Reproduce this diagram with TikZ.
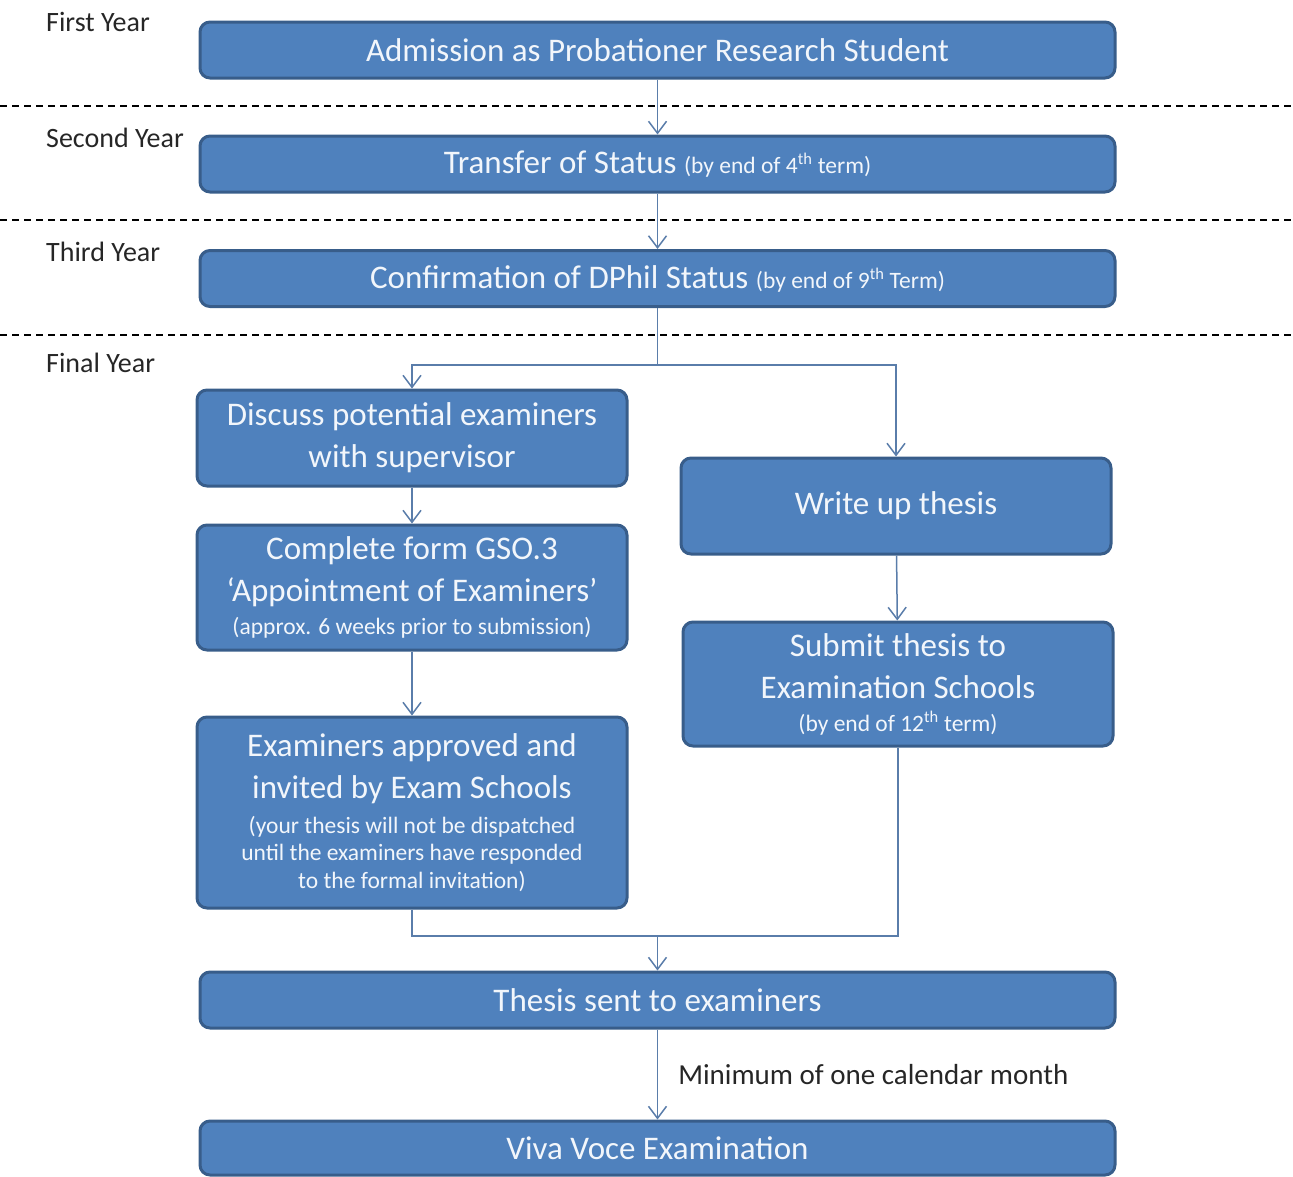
\documentclass[tikz,border=0pt]{standalone}
\usepackage{fontspec}
\setmainfont{Carlito}
\usetikzlibrary{arrows.meta}

\definecolor{boxfill}{HTML}{4F81BD}
\definecolor{boxline}{HTML}{385D8A}
\definecolor{linkcol}{HTML}{5A7DAA}
\definecolor{boxtext}{HTML}{F2F6FB}

\newcommand{\bigtxt}{\fontsize{33}{42}\selectfont}
\newcommand{\smalltxt}{\fontsize{23.5}{27.5}\selectfont}

\begin{document}
\begin{tikzpicture}[x=1pt,y=-1pt,
    box/.style={draw=boxline,line width=3pt,fill=boxfill,rounded corners=10pt,
        text=boxtext,align=center,inner sep=0pt,minimum width=430pt,font=\bigtxt},
    bar/.style={box,minimum width=915pt,minimum height=56pt},
    year/.style={anchor=west,inner sep=0pt,text=black!85,font=\fontsize{28}{30}\selectfont},
    link/.style={draw=linkcol,line width=1.5pt},
    arr/.style={link,-{Straight Barb[length=12pt,width=18pt,line width=1.5pt]}}]

            \useasboundingbox (0,0) rectangle (1293,1176);

            % year separators
            \foreach \y in {106,220,335}
                \draw[black,line width=1.3pt,dash pattern=on 7pt off 5pt] (0,\y) -- (1293,\y);

            \node[year] (y1) at (46,22) {First Year};
            \node[year] (y2) at (46,138) {Second Year};
            \node[year] (y3) at (46,252) {Third Year};
            \node[year] (y4) at (46,363) {Final Year};

            \node[bar] (adm) at (657.5,50) {Admission as Probationer Research Student};

            \node[bar] (trans) at (657.5,164) {Transfer of Status {\smalltxt (by end of 4\textsuperscript{th} term)}};

            \node[bar] (conf) at (657.5,278.5) {Confirmation of DPhil Status {\smalltxt (by end of 9\textsuperscript{th} Term)}};

            \node[box,minimum height=96pt] (discuss) at (412,438) {Discuss potential examiners\\with supervisor};

            \node[box,minimum height=125pt] (gso) at (412,587.5) {Complete form GSO.3\\‘Appointment of Examiners’\\[-9pt]{\smalltxt (approx. 6 weeks prior to submission)}};

            \node[box,minimum height=191pt] (approved) at (412,812.5) {Examiners approved and\\invited by Exam Schools\\[-7pt]
                {\smalltxt (your thesis will not be dispatched}\\[-14.5pt]{\smalltxt until the examiners have responded}\\[-14.5pt]{\smalltxt to the formal invitation)}};

            \node[box,minimum height=96pt] (writeup) at (896,506) {Write up thesis};

            \node[box,minimum height=124pt] (submit) at (898,684) {Submit thesis to\\Examination Schools\\[-9pt]{\smalltxt (by end of 12\textsuperscript{th} term)}};

            \node[bar] (sent) at (657.5,1000) {Thesis sent to examiners};

            \node[bar,minimum height=54pt] (viva) at (657.5,1148) {Viva Voce Examination};

            \coordinate (split) at (657.5,365);
            \coordinate (join) at (657.5,936);

            \draw[arr] (adm) -- (trans);
            \draw[arr] (trans) -- (conf);
            \draw[link] (conf) -- (split);
            \draw[arr] (split) -| (discuss);
            \draw[arr] (split) -| (writeup);
            \draw[arr] (discuss) -- (gso);
            \draw[arr] (gso) -- (approved);
            \draw[arr] (writeup) -- (submit);
            \draw[link] (approved) |- (join);
            \draw[link] (submit) |- (join);
            \draw[arr] (join) -- (sent);
            \draw[arr] (sent) -- node[right=20pt,inner sep=0pt,text=black!85,font=\fontsize{29}{30}\selectfont] (gap) {Minimum of one calendar month} (viva);
\end{tikzpicture}
\end{document}
